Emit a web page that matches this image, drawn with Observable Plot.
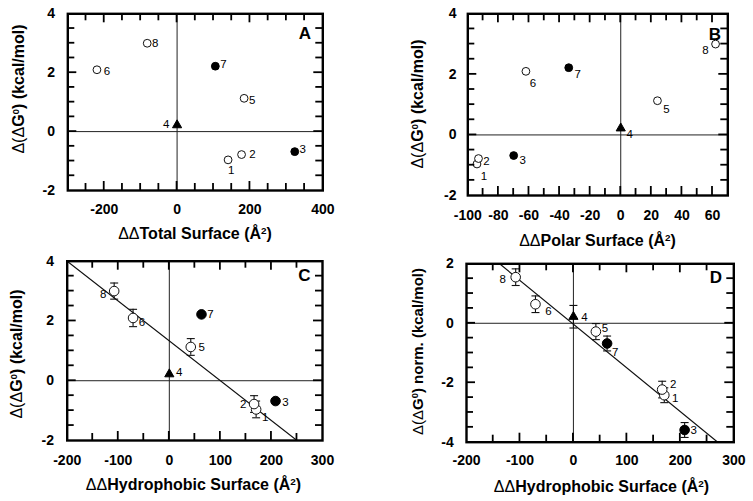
<!DOCTYPE html>
<html>
<head>
<meta charset="utf-8">
<script src="https://cdn.jsdelivr.net/npm/d3@7"></script>
<script src="https://cdn.jsdelivr.net/npm/@observablehq/plot@0.6"></script>
<style>
  body { margin: 0; background: #fff; }
  #chart { position: relative; width: 753px; height: 501px; overflow: hidden; background: #fff; }
  #chart > svg { position: absolute; }
</style>
</head>
<body>
<div id="chart"></div>
<script>
// ---------- data ----------
const pointIds = [1, 2, 3, 4, 5, 6, 7, 8];
const pointKinds = ["open", "open", "filled", "triangle", "open", "open", "filled", "open"];
const ddG = [-0.96, -0.78, -0.68, 0.22, 1.13, 2.10, 2.22, 3.00];
const ddGErr = [0.28, 0.28, null, null, 0.28, 0.29, null, 0.27];
const ddGNorm = [-2.42, -2.23, -3.59, 0.22, -0.28, 0.64, -0.68, 1.55];
const ddGNormErr = [0.25, 0.28, 0.25, 0.38, 0.27, 0.28, 0.25, 0.28];
const totalSurface = [140, 177, 323, 0, 184, -220, 105, -82];
const polarSurface = [-94, -93, -70, 0, 24, -62, -34, 62];
const hydrophobicSurface = [170, 166, 208, 0, 42, -71, 63, -108];
const fitC = { slope: -0.01333, intercept: 1.333 };
const fitD = { slope: -0.0147, intercept: -0.03 };

const tickLabelsTotal = [-200, 0, 200, 400];
const tickLabelsPolar = [-100, -80, -60, -40, -20, 0, 20, 40, 60];
const tickLabelsHydro = [-200, -100, 0, 100, 200, 300];
const tickLabelsDG = [-2, 0, 2, 4];
const tickLabelsDGNorm = [-4, -2, 0, 2];

// ---------- layout / style ----------
const FONT = "'Liberation Sans', Arial, Helvetica, sans-serif";
const capSymbol = { draw(ctx, size) { const w = Math.sqrt(size / Math.PI); ctx.moveTo(-w, 0); ctx.lineTo(w, 0); } };

function fitSegment(fit, xd, yd) {
  const xs = yd.map(y => (y - fit.intercept) / fit.slope);
  const lo = Math.max(xd[0], Math.min(...xs));
  const hi = Math.min(xd[1], Math.max(...xs));
  return [lo, hi].map(x => ({ x, y: fit.intercept + fit.slope * x }));
}

function addTitle(svg, cx, cy, rotate, parts, size) {
  const t = d3.select(svg).append("text")
    .attr("transform", `translate(${cx},${cy}) rotate(${rotate})`)
    .attr("text-anchor", "middle")
    .attr("font-family", FONT)
    .attr("font-size", size)
    .attr("fill", "#000");
  parts.forEach(p => {
    const s = t.append("tspan").text(p.t).attr("font-weight", p.normal ? "normal" : "bold");
    if (p.sup) s.attr("font-size", size * 0.62).attr("baseline-shift", "super");
  });
}

const xTitleParts = name => [{ t: "ΔΔ", normal: true }, { t: name + " Surface (Å" }, { t: "2", sup: true }, { t: ")" }];
const yTitleParts = extra => [{ t: "Δ(", normal: true }, { t: "Δ", normal: true }, { t: "G" }, { t: "0", sup: true }, { t: ")" + extra + " (kcal/mol)" }];

const panels = [
  {
    letter: "A", left: 0, top: 0, width: 376, height: 250,
    margin: { top: 13.3, right: 53.7, bottom: 60, left: 67.3 },
    xs: totalSurface, ys: ddG, errs: null, fit: null,
    xDomain: [-300, 400], yDomain: [-2, 4], xStep: 50, yStep: 0.5,
    xLabels: tickLabelsTotal, yLabels: tickLabelsDG, xPad: 13.3, yPad: 12.8,
    r: 3.9, letterD: [-18, 20],
    offsets: [[3, 10], [11, 0], [8, -2], [-11, -1], [8, 2], [10, 2], [8, -2], [8, 0]],
    xTitle: { x: 195, y: 239, parts: xTitleParts("Total") },
    yTitle: { x: 24, y: 89, parts: yTitleParts(""), size: 16 }
  },
  {
    letter: "B", left: 376, top: 0, width: 377, height: 250,
    margin: { top: 13.3, right: 25.7, bottom: 55, left: 91.3 },
    xs: polarSurface, ys: ddG, errs: null, fit: null,
    xDomain: [-100, 70], yDomain: [-2, 4], xStep: 10, yStep: 0.5,
    xLabels: tickLabelsPolar, yLabels: tickLabelsDG, xPad: 15, yPad: 11.3,
    r: 3.9, letterD: [-13, 21],
    offsets: [[7, 12], [8, 3], [9, 5], [9, 6], [9, 9], [7, 12], [9, 7], [-10, 6]],
    xTitle: { x: 221.5, y: 246, parts: xTitleParts("Polar") },
    yTitle: { x: 47, y: 104, parts: yTitleParts(""), size: 16 }
  },
  {
    letter: "C", left: 0, top: 250, width: 376, height: 251,
    margin: { top: 10.7, right: 54, bottom: 61, left: 66.7 },
    xs: hydrophobicSurface, ys: ddG, errs: ddGErr, fit: fitC,
    xDomain: [-200, 300], yDomain: [-2, 4], xStep: 50, yStep: 0.5,
    xLabels: tickLabelsHydro, yLabels: tickLabelsDG, xPad: 15, yPad: 13.2,
    r: 4.8, letterD: [-18, 14],
    offsets: [[9, 8], [-11, 0], [10, 1], [10, -2], [11, 0], [9, 4], [9, 0], [-11, 3]],
    xTitle: { x: 193.5, y: 240, parts: xTitleParts("Hydrophobic") },
    yTitle: { x: 22, y: 104, parts: yTitleParts(""), size: 16 }
  },
  {
    letter: "D", left: 376, top: 250, width: 377, height: 251,
    margin: { top: 13.3, right: 19.7, bottom: 59.3, left: 90 },
    xs: hydrophobicSurface, ys: ddGNorm, errs: ddGNormErr, fit: fitD,
    xDomain: [-200, 300], yDomain: [-4, 2], xStep: 50, yStep: 0.5,
    xLabels: tickLabelsHydro, yLabels: tickLabelsDGNorm, xPad: 13.3, yPad: 12.7,
    r: 4.8, letterD: [-18, 13.5],
    offsets: [[11, 3], [11, -5], [9, 0], [11, 1], [9, -3], [13, 7], [8, 9], [-13, 2]],
    xTitle: { x: 225.5, y: 242, parts: xTitleParts("Hydrophobic") },
    yTitle: { x: 47, y: 101.5, parts: yTitleParts(" norm."), size: 15 }
  }
];

function tickValues(domain, step) {
  const out = [];
  const n = Math.round((domain[1] - domain[0]) / step);
  for (let i = 1; i < n; i++) out.push(+(domain[0] + i * step).toFixed(6));
  return out;
}

// inward ticks on all four frame sides, placed with the plot's own x/y scales
function addInwardTicks(svg, cfg) {
  const sx = svg.scale("x"), sy = svg.scale("y");
  const fx = v => sx.apply(v), fy = v => sy.apply(v);
  const left = cfg.margin.left, right = cfg.width - cfg.margin.right;
  const top = cfg.margin.top, bottom = cfg.height - cfg.margin.bottom;
  const g = d3.select(svg).append("g").attr("stroke", "#000").attr("stroke-width", 1.8).attr("fill", "none");
  tickValues(cfg.xDomain, cfg.xStep).forEach(v => {
    const len = cfg.xLabels.includes(v) ? 9 : 7;
    const x = fx(v);
    g.append("line").attr("x1", x).attr("x2", x).attr("y1", bottom).attr("y2", bottom - len);
    g.append("line").attr("x1", x).attr("x2", x).attr("y1", top).attr("y2", top + len);
  });
  tickValues(cfg.yDomain, cfg.yStep).forEach(v => {
    const len = cfg.yLabels.includes(v) ? 9 : 7;
    const y = fy(v);
    g.append("line").attr("y1", y).attr("y2", y).attr("x1", left).attr("x2", left + len);
    g.append("line").attr("y1", y).attr("y2", y).attr("x1", right).attr("x2", right - len);
  });
}

function buildPanel(cfg) {
  const data = pointIds.map((id, i) => ({
    id, kind: pointKinds[i], x: cfg.xs[i], y: cfg.ys[i], e: cfg.errs ? cfg.errs[i] : null
  }));

  const marks = [
    Plot.ruleX([0], { x: d => d, stroke: "#222", strokeWidth: 1 }),
    Plot.ruleY([0], { y: d => d, stroke: "#222", strokeWidth: 1 })
  ];

  if (cfg.fit) {
    marks.push(Plot.line(fitSegment(cfg.fit, cfg.xDomain, cfg.yDomain), { x: "x", y: "y", stroke: "#111", strokeWidth: 1.1 }));
  }

  const withErr = data.filter(d => d.e != null);
  if (withErr.length) {
    marks.push(Plot.ruleX(withErr, { x: "x", y1: d => d.y - d.e, y2: d => d.y + d.e, stroke: "#111", strokeWidth: 1.1 }));
    marks.push(Plot.dot(withErr, { x: "x", y: d => d.y + d.e, symbol: capSymbol, r: 4, stroke: "#111", fill: "none", strokeWidth: 1.1 }));
    marks.push(Plot.dot(withErr, { x: "x", y: d => d.y - d.e, symbol: capSymbol, r: 4, stroke: "#111", fill: "none", strokeWidth: 1.1 }));
  }

  marks.push(Plot.dot(data.filter(d => d.kind === "open"), { x: "x", y: "y", r: cfg.r, fill: "white", stroke: "#111", strokeWidth: 1 }));
  marks.push(Plot.dot(data.filter(d => d.kind === "filled"), { x: "x", y: "y", r: cfg.r, fill: "#000", stroke: "#000", strokeWidth: 1 }));
  marks.push(Plot.dot(data.filter(d => d.kind === "triangle"), { x: "x", y: "y", r: 3.4, symbol: "triangle", fill: "#000", stroke: "#000", strokeWidth: 1 }));

  data.forEach((d, i) => {
    marks.push(Plot.text([d], {
      x: "x", y: "y", text: v => String(v.id),
      dx: cfg.offsets[i][0], dy: cfg.offsets[i][1],
      fontSize: 11.5, fill: "#000", textAnchor: "middle", lineAnchor: "middle"
    }));
  });

  marks.push(Plot.text([cfg.letter], {
    frameAnchor: "top-right", text: d => d, dx: cfg.letterD[0], dy: cfg.letterD[1],
    textAnchor: "middle", lineAnchor: "middle", fontSize: 17, fontWeight: "bold", fill: "#000"
  }));

  marks.push(Plot.axisX(cfg.xLabels, {
    anchor: "bottom", tickSize: 0, tickPadding: cfg.xPad, tickFormat: d => String(d),
    fontSize: 14, fontWeight: "bold", fill: "#000", label: null
  }));
  marks.push(Plot.axisY(cfg.yLabels, {
    anchor: "left", tickSize: 0, tickPadding: cfg.yPad, tickFormat: d => String(d),
    fontSize: 14, fontWeight: "bold", fill: "#000", label: null
  }));
  marks.push(Plot.frame({ stroke: "#000", strokeWidth: 2.4 }));

  const svg = Plot.plot({
    width: cfg.width, height: cfg.height,
    marginTop: cfg.margin.top, marginRight: cfg.margin.right,
    marginBottom: cfg.margin.bottom, marginLeft: cfg.margin.left,
    x: { domain: cfg.xDomain },
    y: { domain: cfg.yDomain },
    style: { fontFamily: FONT, background: "transparent", color: "#000" },
    marks
  });
  svg.style.left = cfg.left + "px";
  svg.style.top = cfg.top + "px";

  addInwardTicks(svg, cfg);
  addTitle(svg, cfg.xTitle.x, cfg.xTitle.y, 0, cfg.xTitle.parts, 16);
  addTitle(svg, cfg.yTitle.x, cfg.yTitle.y, -90, cfg.yTitle.parts, cfg.yTitle.size);
  return svg;
}

const chart = document.getElementById("chart");
panels.forEach(p => chart.appendChild(buildPanel(p)));
</script>
</body>
</html>
